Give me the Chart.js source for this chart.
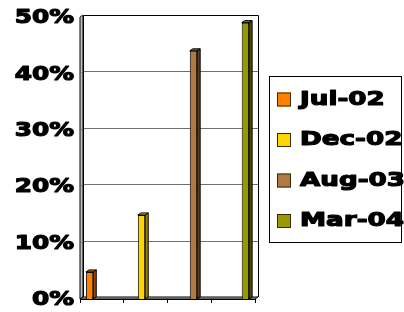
<!DOCTYPE html>
<html>
<head>
<meta charset="utf-8">
<script src="https://cdn.jsdelivr.net/npm/chart.js@4.4.0/dist/chart.umd.min.js"></script>
<style>
  html, body { margin: 0; padding: 0; background: #fff; }
  #chart { display: block; }
</style>
</head>
<body>
<canvas id="chart" width="404" height="312"></canvas>
<script>
// Date
const categories = ['Jul-02', 'Dec-02', 'Aug-03', 'Mar-04'];
const seriesNames = ['Jul-02', 'Dec-02', 'Aug-03', 'Mar-04'];
const seriesValues = [0.048, 0.149, 0.44, 0.49];
const yTickValues = [0, 0.1, 0.2, 0.3, 0.4, 0.5];
const yTickLabels = ['0%', '10%', '20%', '30%', '40%', '50%'];

const frontColors = ['#FF8000', '#FFD500', '#B07A42', '#999900'];
const sideColors = ['#9A4500', '#A08400', '#5E3C1C', '#4F4F00'];
const topColors = ['#D86A00', '#E8C000', '#8E6030', '#7A7A00'];

const FONT = 'bold 20px "DejaVu Sans"';
const WALL_DX = 3, WALL_DY = -2;
const BAR_DX = 3, BAR_DY = -2;

// text latit orizontal si ingrosat (ca fontul din Excel)
function stretchedText(ctx, text, x, y, align, stretch) {
  ctx.save();
  ctx.font = FONT;
  ctx.textBaseline = 'middle';
  ctx.textAlign = 'left';
  const w = ctx.measureText(text).width * stretch;
  const x0 = align === 'right' ? x - w : x;
  ctx.translate(x0, y);
  ctx.scale(stretch, 1);
  ctx.fillStyle = '#000';
  ctx.strokeStyle = '#000';
  ctx.lineWidth = 1.2;
  ctx.lineJoin = 'round';
  ctx.strokeText(text, 0, 0);
  ctx.fillText(text, 0, 0);
  ctx.restore();
}

function poly(ctx, pts, fill, stroke) {
  ctx.beginPath();
  ctx.moveTo(pts[0][0], pts[0][1]);
  for (let i = 1; i < pts.length; i++) ctx.lineTo(pts[i][0], pts[i][1]);
  ctx.closePath();
  if (fill) { ctx.fillStyle = fill; ctx.fill(); }
  if (stroke) { ctx.strokeStyle = stroke; ctx.lineWidth = 1; ctx.stroke(); }
}

const wallPlugin = {
  id: 'wall3d',
  beforeDatasetsDraw(chart) {
    const ctx = chart.ctx;
    const a = chart.chartArea;
    const y = chart.scales.y;
    const L = a.left, R = a.right, T = a.top, B = a.bottom;
    ctx.save();
    // perete stanga
    poly(ctx, [[L, T], [L + WALL_DX, T + WALL_DY], [L + WALL_DX, B + WALL_DY], [L, B]], '#C0C0C0', '#000');
    // gridlines pe peretele din spate
    ctx.strokeStyle = '#707070';
    ctx.lineWidth = 1;
    yTickValues.forEach(v => {
      if (v === 0) return;
      const py = Math.round(y.getPixelForValue(v)) + 0.5;
      ctx.beginPath();
      ctx.moveTo(L, py);
      ctx.lineTo(L + WALL_DX, py + WALL_DY);
      ctx.lineTo(R + WALL_DX, py + WALL_DY);
      ctx.stroke();
    });
    // contur perete spate
    ctx.strokeStyle = '#000';
    ctx.beginPath();
    ctx.moveTo(L + WALL_DX + 0.5, B + WALL_DY);
    ctx.lineTo(L + WALL_DX + 0.5, T + WALL_DY + 0.5);
    ctx.lineTo(R + WALL_DX + 0.5, T + WALL_DY + 0.5);
    ctx.lineTo(R + WALL_DX + 0.5, B + WALL_DY);
    ctx.stroke();
    // podea
    poly(ctx, [[L, B], [L + WALL_DX, B + WALL_DY], [R + WALL_DX, B + WALL_DY], [R, B]], '#C0C0C0', '#000');
    ctx.restore();
  },
  afterDatasetsDraw(chart) {
    const ctx = chart.ctx;
    ctx.save();
    chart.data.datasets.forEach((ds, i) => {
      const meta = chart.getDatasetMeta(i);
      meta.data.forEach((bar, j) => {
        if (ds.data[j] == null) return;
        const p = bar.getProps(['x', 'y', 'base', 'width']);
        const l = p.x - p.width / 2, r = p.x + p.width / 2;
        poly(ctx, [[r, p.y], [r + BAR_DX, p.y + BAR_DY], [r + BAR_DX, p.base + BAR_DY], [r, p.base]], sideColors[i], '#000');
        poly(ctx, [[l, p.y], [l + BAR_DX, p.y + BAR_DY], [r + BAR_DX, p.y + BAR_DY], [r, p.y]], topColors[i], '#000');
      });
    });
    ctx.restore();
  },
  afterDraw(chart) {
    const ctx = chart.ctx;
    const y = chart.scales.y;
    // etichete axa Y
    yTickValues.forEach((v, i) => {
      stretchedText(ctx, yTickLabels[i], 74, y.getPixelForValue(v) + 1, 'right', 1.24);
    });
    // legenda cu chenar
    ctx.save();
    ctx.strokeStyle = '#000';
    ctx.lineWidth = 1;
    ctx.strokeRect(269.5, 76.5, 132, 166);
    chart.data.datasets.forEach((ds, i) => {
      const cy = 99.5 + i * 40.5;
      ctx.fillStyle = ds.backgroundColor;
      ctx.fillRect(277, cy - 7, 14, 14);
      ctx.strokeStyle = '#3a2a00';
      ctx.strokeRect(277.5, cy - 6.5, 13, 13);
      stretchedText(ctx, ds.label, 300, cy, 'left', 1.31);
    });
    ctx.restore();
  }
};

const datasets = seriesNames.map((name, i) => ({
  label: name,
  data: categories.map((c, j) => (j === i ? seriesValues[i] : null)),
  backgroundColor: frontColors[i],
  borderColor: '#000',
  borderWidth: 1,
  barPercentage: 0.9,
  categoryPercentage: 0.75
}));

new Chart(document.getElementById('chart'), {
  type: 'bar',
  data: { labels: categories, datasets: datasets },
  options: {
    responsive: false,
    animation: false,
    devicePixelRatio: 1,
    layout: { padding: { left: 0, top: 17, right: 149, bottom: 0 } },
    plugins: { legend: { display: false }, tooltip: { enabled: false } },
    scales: {
      x: {
        grid: { display: true, drawOnChartArea: false, drawTicks: true, tickLength: 4, color: '#000', offset: true },
        border: { display: true, color: '#000' },
        ticks: { display: false },
        afterFit: s => { s.height = 13; }
      },
      y: {
        min: 0,
        max: 0.5,
        ticks: { display: false, stepSize: 0.1 },
        grid: { display: false },
        border: { display: false },
        afterFit: s => { s.width = 80; }
      }
    }
  },
  plugins: [wallPlugin]
});
</script>
</body>
</html>
